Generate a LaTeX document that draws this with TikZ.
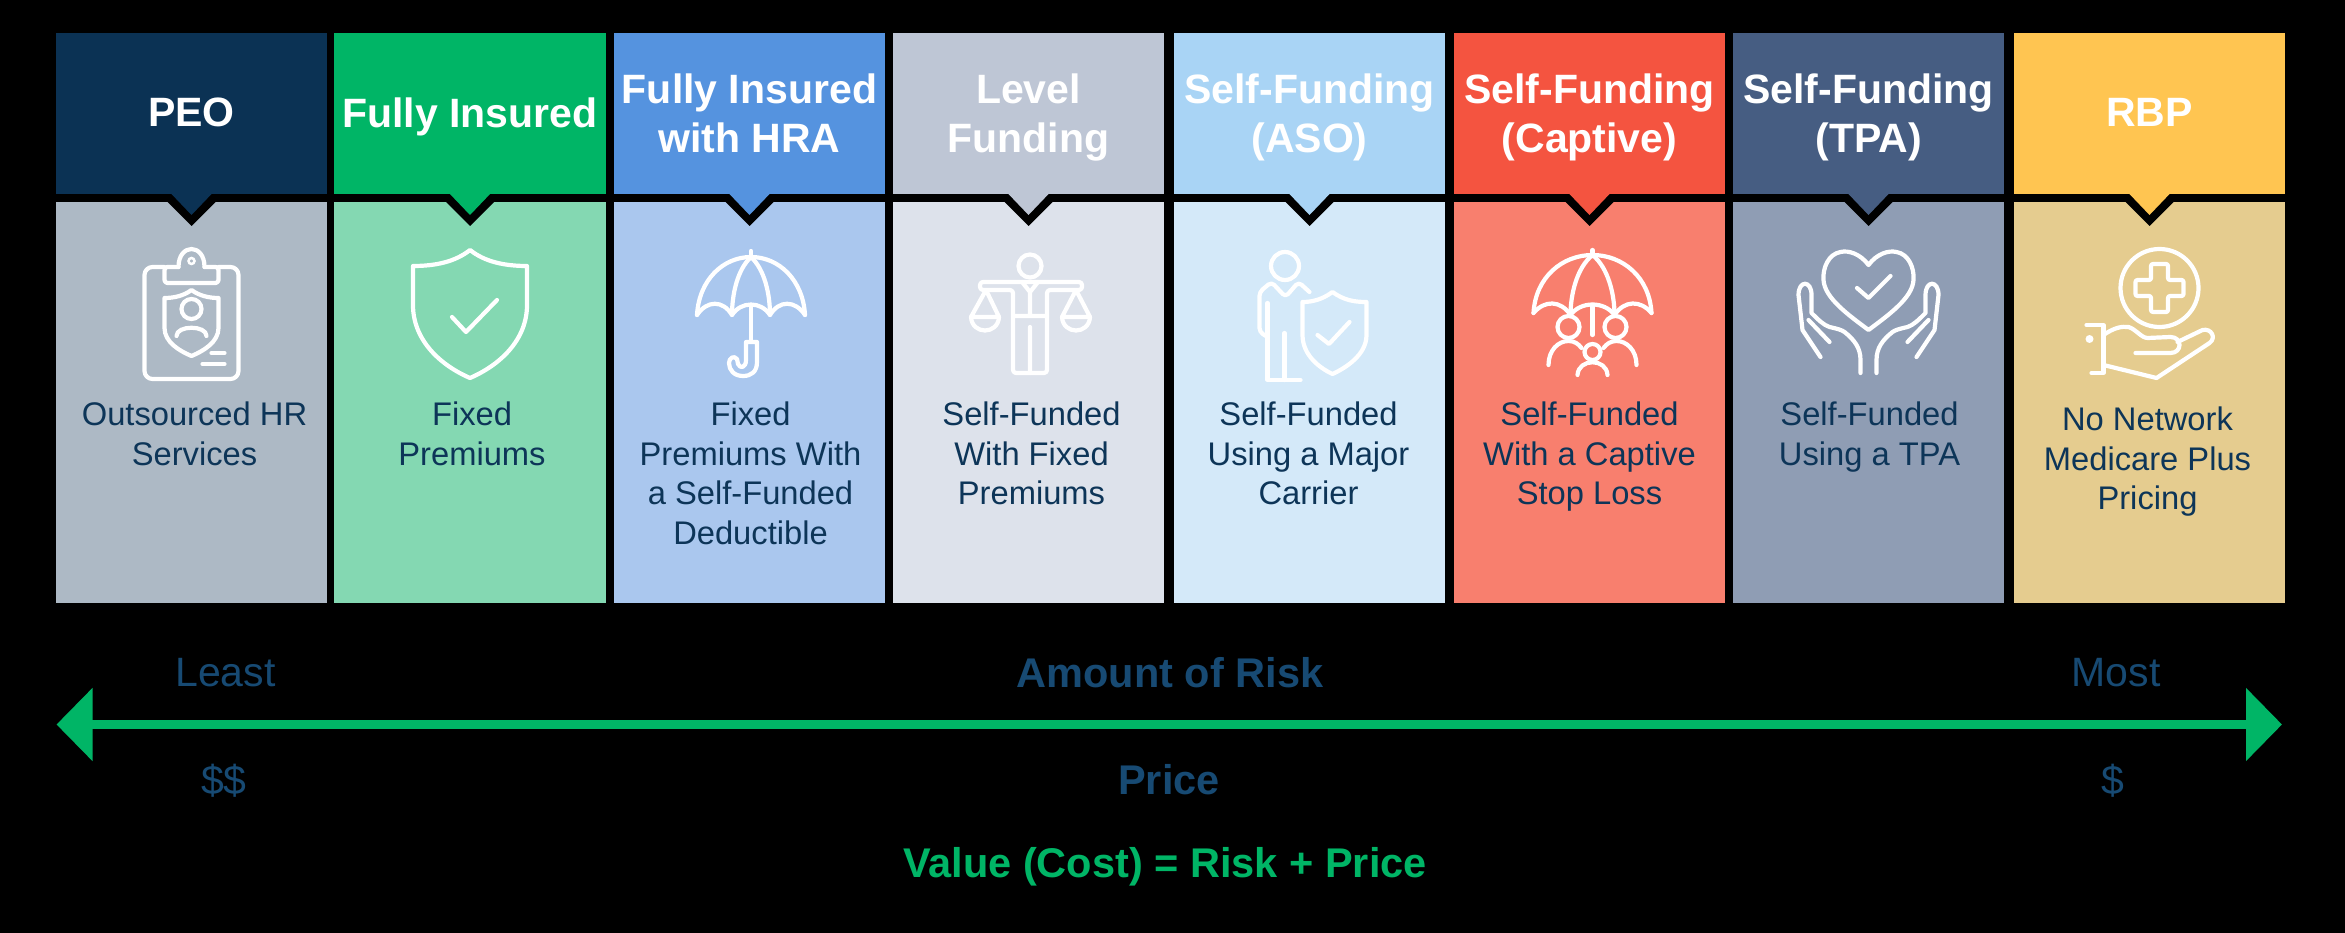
\documentclass[tikz,border=0pt]{standalone}
\usepackage{fontspec}
\setmainfont{Liberation Sans}
\setsansfont{Liberation Sans}
\usetikzlibrary{arrows.meta,calc,positioning}
\definecolor{PeoHead}{HTML}{0B3254}
\definecolor{PeoBody}{HTML}{ADB9C5}
\definecolor{InsuredHead}{HTML}{00B566}
\definecolor{InsuredBody}{HTML}{84D8B2}
\definecolor{HraHead}{HTML}{5593DF}
\definecolor{HraBody}{HTML}{AAC7EE}
\definecolor{LevelHead}{HTML}{BEC6D5}
\definecolor{LevelBody}{HTML}{DDE2EB}
\definecolor{AsoHead}{HTML}{A9D4F5}
\definecolor{AsoBody}{HTML}{D4E9F9}
\definecolor{CaptiveHead}{HTML}{F45440}
\definecolor{CaptiveBody}{HTML}{F87F6E}
\definecolor{TpaHead}{HTML}{465D82}
\definecolor{TpaBody}{HTML}{8F9DB4}
\definecolor{RbpHead}{HTML}{FFC551}
\definecolor{RbpBody}{HTML}{E5CC8F}
\definecolor{TextNavy}{HTML}{0D3558}
\definecolor{ScaleNavy}{HTML}{174A73}
\begin{document}
\begin{tikzpicture}[x=1pt,y=-1pt,every node/.style={font=\sffamily,inner sep=0pt},headtext/.style={anchor=north,align=center,text=white,font=\sffamily\bfseries\fontsize{41}{49}\selectfont},bodytext/.style={anchor=north,align=center,text=TextNavy,font=\sffamily\fontsize{32.7}{39.5}\selectfont},scaletext/.style={text=ScaleNavy,font=\sffamily\fontsize{41}{48}\selectfont},scalebold/.style={text=ScaleNavy,font=\sffamily\bfseries\fontsize{41.5}{48}\selectfont},iconline/.style={draw=white,line width=4.2pt,line join=round,line cap=round},riskarrow/.style={draw=InsuredHead,line width=9.5pt,{Triangle[length=36pt,width=71pt]}-{Triangle[length=36pt,width=71pt]}}]
\fill[black] (0,0) rectangle (2345,933);
\foreach \name/\xa/\xb/\hc/\bc/\htop/\htxt/\bdx/\btop/\btxt in {peo/56/327/PeoHead/PeoBody/98/{PEO}/3/402/{Outsourced HR\\Services},insured/334/606/InsuredHead/InsuredBody/98/{Fully Insured}/2/402/{Fixed\\Premiums},hra/614/885/HraHead/HraBody/74/{Fully Insured\\with HRA}/1/402/{Fixed\\Premiums With\\a Self-Funded\\Deductible},level/893/1164/LevelHead/LevelBody/74/{Level\\Funding}/3/402/{Self-Funded\\With Fixed\\Premiums},aso/1174/1445/AsoHead/AsoBody/74/{Self-Funding\\(ASO)}/-1/402/{Self-Funded\\Using a Major\\Carrier},captive/1454/1725/CaptiveHead/CaptiveBody/74/{Self-Funding\\(Captive)}/0/402/{Self-Funded\\With a Captive\\Stop Loss},tpa/1733/2004/TpaHead/TpaBody/74/{Self-Funding\\(TPA)}/1/402/{Self-Funded\\Using a TPA},rbp/2014/2285/RbpHead/RbpBody/98/{RBP}/-2/407/{No Network\\Medicare Plus\\Pricing}}{
\pgfmathsetmacro{\cx}{(\xa+\xb)/2}
\fill[\hc] (\xa,33) rectangle (\xb,194);
\fill[\bc] (\xa,202) rectangle (\xb,603);
\fill[black] (\cx-25,201) -- (\cx,226) -- (\cx+25,201) -- cycle;
\fill[\hc] (\cx-21,193) -- (\cx,215) -- (\cx+21,193) -- cycle;
\node[headtext] (head\name) at (\cx,\htop) {\htxt};
\node[bodytext] (body\name) at (\cx+\bdx,\btop) {\btxt};
}
\begin{scope}[shift={(191.5,0)}]
\draw[iconline,rounded corners=8pt] (-27,267) -- (-47,267) -- (-47,379) -- (47,379) -- (47,267) -- (27,267);
\draw[iconline] (-13,267) .. controls (-13,243) and (13,243) .. (13,267);
\draw[iconline,rounded corners=3pt] (-13,267) -- (-27,267) -- (-27,283) -- (27,283) -- (27,267) -- (13,267);
\draw[white,line width=2.5pt] (0,261) circle (3);
\draw[iconline] (0,290) .. controls (-8,296) and (-18,298) .. (-27,298) -- (-27,328) .. controls (-27,342) and (-12,351) .. (0,356) .. controls (12,351) and (27,342) .. (27,328) -- (27,298) .. controls (18,298) and (8,296) .. (0,290) -- cycle;
\draw[iconline] (0,309) circle (10);
\draw[iconline] (-15,336) .. controls (-15,325) and (15,325) .. (15,336);
\draw[iconline] (20,353) -- (33,353) (11,364) -- (33,364);
\end{scope}
\begin{scope}[shift={(470,0)}]
\draw[iconline] (0,250) .. controls (-15,262) and (-35,266) .. (-57,266) -- (-57,305) .. controls (-57,340) and (-30,365) .. (0,378) .. controls (30,365) and (57,340) .. (57,305) -- (57,266) .. controls (35,266) and (15,262) .. (0,250) -- cycle;
\draw[iconline] (-18,317) -- (-4,332) -- (27,300);
\end{scope}
\begin{scope}[shift={(751,0)}]
\draw[iconline] (-54,315) .. controls (-52,280) and (-28,257) .. (0,257) .. controls (28,257) and (52,280) .. (54,315);
\draw[iconline] (-54,315) .. controls (-44,300) and (-28,300) .. (-19,315) .. controls (-10,301) and (10,301) .. (19,315) .. controls (28,300) and (44,300) .. (54,315);
\draw[iconline] (0,257) .. controls (-14,270) and (-19,295) .. (-19,315) (0,257) .. controls (14,270) and (19,295) .. (19,315);
\draw[iconline] (0,251) -- (0,257) (0,305) -- (0,342);
\draw[iconline] (-5,342) -- (6,342) -- (6,362) .. controls (6,372) and (0,376) .. (-8,376) .. controls (-17,376) and (-22,370) .. (-22,363) .. controls (-22,358) and (-17,355) .. (-14,359) -- (-13,364) .. controls (-11,369) and (-5,368) .. (-5,360) -- (-5,342);
\end{scope}
\begin{scope}[shift={(1030,0)}]
\draw[iconline] (0,266) circle (11.5);
\draw[iconline,rounded corners=3pt] (-17,373) -- (-17,290) -- (-50,290) -- (-50,282) -- (52,282) -- (52,290) -- (17,290) -- (17,373) -- cycle;
\draw[iconline] (-8,282) -- (0,292) -- (8,282) (0,292) -- (0,316) (-17,316) -- (17,316) (0,327) -- (0,373);
\draw[iconline] (-59,317) -- (-44,290) -- (-31,317) -- cycle;
\draw[iconline] (-59,317) .. controls (-58,335) and (-32,335) .. (-31,317);
\draw[iconline] (32,317) -- (46,290) -- (60,317) -- cycle;
\draw[iconline] (32,317) .. controls (33,335) and (59,335) .. (60,317);
\end{scope}
\begin{scope}[shift={(1309.5,0)}]
\draw[iconline] (-24.5,266) circle (14);
\draw[iconline,rounded corners=4pt] (0,292) -- (-11,282) -- (-24,297) -- (-38,282) -- (-50,292) -- (-50,332) -- (-42,337);
\draw[iconline] (-42,303) -- (-42,380) -- (-9,380);
\draw[iconline] (-25,333) -- (-25,380);
\draw[iconline] (23,292) .. controls (12,300) and (2,302) .. (-7,302) -- (-7,335) .. controls (-7,355) and (10,368) .. (23,374) .. controls (36,368) and (57,355) .. (57,335) -- (57,302) .. controls (44,302) and (34,300) .. (23,292) -- cycle;
\draw[iconline] (8,335) -- (19.5,344) -- (40,322);
\end{scope}
\begin{scope}[shift={(1592.5,0)}]
\draw[iconline] (-59,313) .. controls (-57,277) and (-30,255) .. (0,255) .. controls (30,255) and (57,277) .. (59,313);
\draw[iconline] (-59,313) .. controls (-48,300) and (-32,300) .. (-22,315) .. controls (-12,301) and (12,301) .. (22,315) .. controls (32,300) and (48,300) .. (59,313);
\draw[iconline] (0,255) .. controls (-16,268) and (-22,295) .. (-22,315) (0,255) .. controls (16,268) and (22,295) .. (22,315);
\draw[iconline] (0,250) -- (0,255) (0,305) -- (0,335);
\draw[iconline] (-24,327) circle (11);
\draw[iconline] (23,327) circle (11);
\draw[iconline] (0,352) circle (8);
\draw[iconline] (-44,365) .. controls (-44,350) and (-34,341) .. (-24,341) .. controls (-18,341) and (-14,344) .. (-11,348);
\draw[iconline] (44,365) .. controls (44,350) and (34,341) .. (24,341) .. controls (18,341) and (14,344) .. (11,348);
\draw[iconline] (-15,375) .. controls (-14,358) and (14,358) .. (15,375);
\end{scope}
\begin{scope}[shift={(1868.5,0)}]
\draw[iconline] (0,265) .. controls (-8,254) and (-20,250) .. (-28,252) .. controls (-40,254) and (-46,268) .. (-45,280) .. controls (-44,298) and (-20,315) .. (0,330) .. controls (20,315) and (44,298) .. (45,280) .. controls (46,268) and (40,254) .. (28,252) .. controls (20,250) and (8,254) .. (0,265) -- cycle;
\draw[iconline] (-11.5,288) -- (0,298) -- (22,276);
\foreach \s in {1,-1}{
\begin{scope}[xscale=\s]
\draw[iconline] (-48,357) -- (-66,330) -- (-70,295) .. controls (-70,280) and (-57,280) .. (-57,295) -- (-57,313) .. controls (-50,320) and (-45,325) .. (-39,327) .. controls (-30,329) and (-27,330) .. (-24,332) .. controls (-14,340) and (-8,348) .. (-8,360) -- (-8,373);
\draw[iconline] (-60,320) -- (-39,342);
\end{scope}
}
\end{scope}
\begin{scope}[shift={(2149.5,0)}]
\draw[iconline] (10,288) circle (39);
\draw[iconline,rounded corners=2pt] (1.5,264) -- (18.5,264) -- (18.5,280) -- (34,280) -- (34,296) -- (18.5,296) -- (18.5,312) -- (1.5,312) -- (1.5,296) -- (-14,296) -- (-14,280) -- (1.5,280) -- cycle;
\draw[iconline] (-63,325) -- (-46,325) -- (-46,373) -- (-58,373);
\fill[white] (-60,339) circle (4);
\draw[iconline] (-46,335) .. controls (-36,328) and (-28,326) .. (-21,327) .. controls (-14,329) and (-8,338) .. (-2,338) -- (21,337) .. controls (33,337) and (33,353) .. (21,353) -- (-14,353);
\draw[iconline] (28,342) -- (53,330) .. controls (62,328) and (67,338) .. (60,343) -- (7,378) -- (-46,365);
\end{scope}
\coordinate (riskL) at (56.5,724.5);
\coordinate (riskR) at (2282,724.5);
\draw[riskarrow] (riskL) -- (riskR);
\node[scaletext] (least) at (225.5,673) {Least};
\node[scaletext] (most) at (2116,673) {Most};
\node[scalebold] (risk) at (1170,673) {Amount of Risk};
\node[scaletext] (twodollar) at (224,781) {\$\$};
\node[scaletext] (onedollar) at (2113,781) {\$};
\node[scalebold] (price) at (1169,780) {Price};
\node[scalebold,text=InsuredHead] (value) at (1165,867) {Value (Cost) = Risk + Price};
\end{tikzpicture}
\end{document}
